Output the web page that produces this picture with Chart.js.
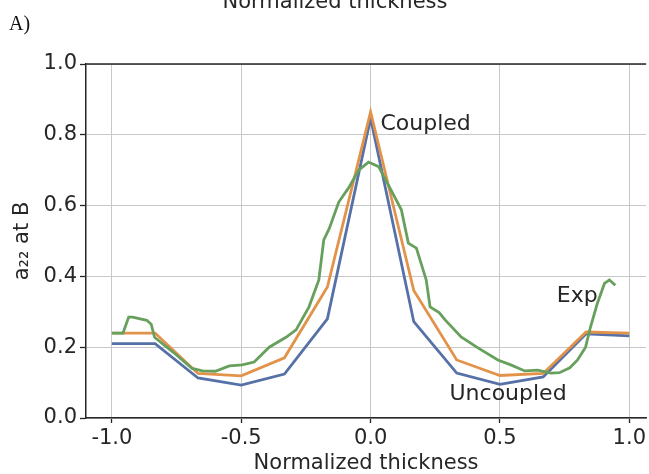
<!DOCTYPE html>
<html>
<head>
<meta charset="utf-8">
<script src="https://cdn.jsdelivr.net/npm/chart.js@4/dist/chart.umd.min.js"></script>
<style>
html, body { margin: 0; padding: 0; background: #fff; overflow: hidden; }
canvas { display: block; }
</style>
</head>
<body>
<canvas id="plot" width="649" height="474" style="width:649px;height:474px"></canvas>
<script>
// values
const nodeX = [-1, -0.833, -0.667, -0.5, -0.333, -0.167, 0, 0.167, 0.333, 0.5, 0.667, 0.833, 1];
const uncoupled = [0.21, 0.21, 0.113, 0.093, 0.124, 0.28, 0.847, 0.272, 0.127, 0.095, 0.116, 0.238, 0.232];
const coupled = [0.24, 0.24, 0.126, 0.119, 0.17, 0.37, 0.865, 0.36, 0.164, 0.12, 0.126, 0.243, 0.24];

const expX = [-1.0, -0.957, -0.935, -0.92, -0.865, -0.848, -0.835, -0.765, -0.69, -0.65, -0.6, -0.546,
  -0.496, -0.45, -0.392, -0.327, -0.288, -0.238, -0.2, -0.181, -0.16, -0.123, -0.085, -0.046, -0.008,
  0.031, 0.069, 0.119, 0.146, 0.177, 0.215, 0.23, 0.265, 0.288, 0.35, 0.415, 0.492, 0.542, 0.596,
  0.646, 0.696, 0.73, 0.77, 0.8, 0.831, 0.85, 0.877, 0.904, 0.923, 0.946];
const expY = [0.24, 0.24, 0.285, 0.285, 0.276, 0.265, 0.228, 0.187, 0.14, 0.133, 0.132, 0.147,
  0.15, 0.158, 0.2, 0.228, 0.249, 0.314, 0.39, 0.503, 0.535, 0.61, 0.65, 0.70, 0.723,
  0.71, 0.658, 0.588, 0.494, 0.48, 0.39, 0.314, 0.298, 0.277, 0.229, 0.198, 0.164, 0.15, 0.133,
  0.135, 0.127, 0.128, 0.142, 0.164, 0.2, 0.257, 0.325, 0.38, 0.39, 0.375];

const xTicks = [-1, -0.5, 0, 0.5, 1];
const xTickLabels = ['-1.0', '-0.5', '0.0', '0.5', '1.0'];
const yTicks = [0, 0.2, 0.4, 0.6, 0.8, 1];
const yTickLabels = ['0.0', '0.2', '0.4', '0.6', '0.8', '1.0'];

// curve labels placed in data coordinates
const notes = [
  {text: 'Coupled', x: 0.038, y: 0.814},
  {text: 'Uncoupled', x: 0.305, y: 0.05},
  {text: 'Exp', x: 0.72, y: 0.328}
];

const FONT = 'DejaVu Sans';
const INK = '#262626';

function pts(xs, ys) {
  return xs.map((x, i) => ({x: x, y: ys[i]}));
}

const extras = {
  id: 'extras',
  afterDatasetsDraw(chart) {
    const ctx = chart.ctx;
    const a = chart.chartArea;
    const sx = chart.scales.x, sy = chart.scales.y;
    ctx.save();
    // top spine
    ctx.strokeStyle = INK;
    ctx.lineWidth = 1.5;
    ctx.beginPath();
    ctx.moveTo(a.left - 0.75, a.top);
    ctx.lineTo(a.right, a.top);
    ctx.stroke();
    // curve labels
    ctx.fillStyle = INK;
    ctx.font = '22px "' + FONT + '"';
    ctx.textBaseline = 'alphabetic';
    ctx.textAlign = 'left';
    notes.forEach(n => ctx.fillText(n.text, sx.getPixelForValue(n.x), sy.getPixelForValue(n.y)));
    // cut-off label of the panel above
    ctx.font = '21px "' + FONT + '"';
    ctx.textAlign = 'center';
    ctx.fillText('Normalized thickness', 335, 8);
    // panel letter
    ctx.textAlign = 'left';
    ctx.fillStyle = '#111';
    ctx.font = '20px "Liberation Serif"';
    ctx.fillText('A)', 9, 30);
    ctx.restore();
  }
};

new Chart(document.getElementById('plot'), {
  type: 'line',
  data: {
    datasets: [
      {label: 'Exp', data: pts(expX, expY), borderColor: '#67a05c', order: 0},
      {label: 'Coupled', data: pts(nodeX, coupled), borderColor: '#e3924a', order: 1},
      {label: 'Uncoupled', data: pts(nodeX, uncoupled), borderColor: '#5571a8', order: 2}
    ]
  },
  options: {
    responsive: false,
    animation: false,
    devicePixelRatio: 1,
    layout: {padding: {left: 0, top: 64, right: 0, bottom: 0}},
    plugins: {legend: {display: false}, tooltip: {enabled: false}},
    elements: {
      point: {radius: 0},
      line: {tension: 0, borderWidth: 2.8, fill: false}
    },
    scales: {
      x: {
        type: 'linear',
        min: -1.1,
        max: 1.065,
        afterBuildTicks: s => { s.ticks = xTicks.map(v => ({value: v})); },
        afterFit: s => { s.height = 56; },
        ticks: {
          callback: (v, i) => xTickLabels[i],
          font: {family: FONT, size: 21},
          color: INK,
          padding: 3,
          maxRotation: 0,
          autoSkip: false
        },
        grid: {color: '#c8c8c8', lineWidth: 1, tickLength: 5, tickColor: INK, tickWidth: 1.3},
        border: {color: INK, width: 1.5},
        title: {
          display: true,
          text: 'Normalized thickness',
          font: {family: FONT, size: 21, lineHeight: 1},
          color: INK,
          padding: {top: 0, bottom: 0}
        }
      },
      y: {
        min: 0,
        max: 1,
        afterBuildTicks: s => { s.ticks = yTicks.map(v => ({value: v})); },
        afterFit: s => { s.width = 86; },
        ticks: {
          callback: (v, i) => yTickLabels[i],
          font: {family: FONT, size: 21},
          color: INK,
          padding: 3
        },
        grid: {color: '#c8c8c8', lineWidth: 1, tickLength: 6, tickColor: INK, tickWidth: 1.3},
        border: {color: INK, width: 1.5},
        title: {
          display: true,
          text: 'a₂₂ at B',
          font: {family: FONT, size: 21},
          color: INK,
          padding: {top: 10, bottom: 0}
        }
      }
    }
  },
  plugins: [extras]
});
</script>
</body>
</html>
